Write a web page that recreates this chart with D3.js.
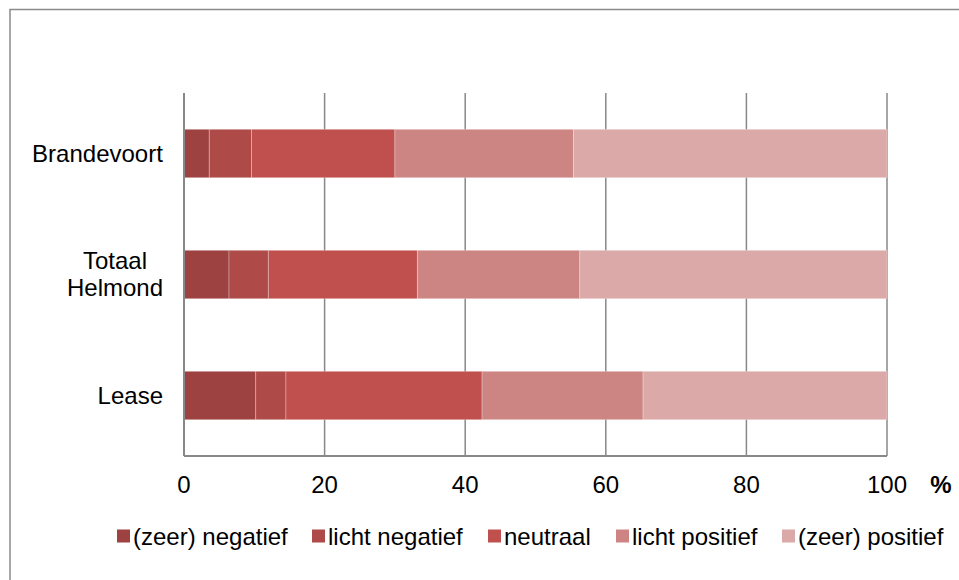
<!DOCTYPE html>
<html>
<head>
<meta charset="utf-8">
<script src="https://cdn.jsdelivr.net/npm/d3@7"></script>
<style>
  html, body { margin: 0; padding: 0; background: #fff; }
  svg { display: block; font-family: "Liberation Sans", Arial, sans-serif; }
</style>
</head>
<body>
<svg id="chart" width="959" height="580"></svg>
<script>
// Categories (top to bottom) and label lines
const categories = ["Brandevoort", "Totaal Helmond", "Lease"];
const categoryLines = [["Brandevoort"], ["Totaal", "Helmond"], ["Lease"]];

// Answer classes, in stacking order
const seriesNames = ["(zeer) negatief", "licht negatief", "neutraal", "licht positief", "(zeer) positief"];
const seriesColors = ["#9d4240", "#ae4a47", "#c0504d", "#cd8583", "#dba9a8"];

// Percentages per category, one array per answer class
const zeerNegatief  = [3.6, 6.4, 10.2];
const lichtNegatief = [6.0, 5.6, 4.3];
const neutraal      = [20.4, 21.2, 27.9];
const lichtPositief = [25.4, 23.1, 22.9];
const zeerPositief  = [44.6, 43.7, 34.7];

const xTicks = [0, 20, 40, 60, 80, 100];

const seriesValues = [zeerNegatief, lichtNegatief, neutraal, lichtPositief, zeerPositief];
const rows = categories.map((c, i) => {
  const r = { category: c };
  seriesNames.forEach((s, j) => { r[s] = seriesValues[j][i]; });
  return r;
});

const svg = d3.select("#chart");
const fontSize = 24;

// outer chart frame
svg.append("rect")
  .attr("x", 10).attr("y", 9.5)
  .attr("width", 1000).attr("height", 1000)
  .attr("fill", "none").attr("stroke", "#8a8a8a").attr("stroke-width", 1.5);

const plot = { left: 184, right: 887, top: 93, bottom: 456 };

const x = d3.scaleLinear().domain([0, 100]).range([plot.left, plot.right]);
const y = d3.scaleBand().domain(categories).range([plot.top, plot.bottom])
  .paddingInner(0.6).paddingOuter(0.3);

// vertical gridlines
svg.append("g")
  .selectAll("line")
  .data(xTicks)
  .join("line")
  .attr("x1", d => x(d)).attr("x2", d => x(d))
  .attr("y1", plot.top).attr("y2", plot.bottom)
  .attr("stroke", "#888").attr("stroke-width", 1.5);

// stacked bars
const stack = d3.stack().keys(seriesNames)(rows);
svg.append("g")
  .selectAll("g")
  .data(stack)
  .join("g")
  .attr("fill", (d, i) => seriesColors[i])
  .selectAll("rect")
  .data(d => d)
  .join("rect")
  .attr("x", d => x(d[0]))
  .attr("y", d => y(d.data.category))
  .attr("width", d => x(d[1]) - x(d[0]))
  .attr("height", y.bandwidth())
  .attr("stroke", "rgba(255,255,255,0.28)")
  .attr("stroke-width", 1);

// axis lines
svg.append("line")
  .attr("x1", plot.left).attr("x2", plot.left)
  .attr("y1", plot.top).attr("y2", plot.bottom)
  .attr("stroke", "#888").attr("stroke-width", 2);
svg.append("line")
  .attr("x1", plot.left).attr("x2", plot.right)
  .attr("y1", plot.bottom).attr("y2", plot.bottom)
  .attr("stroke", "#888").attr("stroke-width", 2);

// x tick labels
svg.append("g")
  .selectAll("text")
  .data(xTicks)
  .join("text")
  .attr("x", d => x(d))
  .attr("y", 493)
  .attr("text-anchor", "middle")
  .attr("font-size", fontSize)
  .attr("fill", "#000")
  .text(d => d);

svg.append("text")
  .attr("x", 941).attr("y", 493)
  .attr("text-anchor", "middle")
  .attr("font-size", fontSize)
  .attr("font-weight", "bold")
  .text("%");

// category labels
const catG = svg.append("g");
categories.forEach((c, i) => {
  const lines = categoryLines[i];
  const cy = y(c) + y.bandwidth() / 2;
  const lh = 27;
  const t = catG.append("text")
    .attr("font-size", fontSize)
    .attr("fill", "#000");
  lines.forEach((ln, k) => {
    t.append("tspan")
      .attr("x", 0)
      .attr("y", cy + 8 + (k - (lines.length - 1) / 2) * lh)
      .attr("text-anchor", "middle")
      .text(ln);
  });
  // right-align the block 21px left of the axis
  const bb = t.node().getBBox();
  t.attr("transform", `translate(${plot.left - 21 - bb.width / 2},0)`);
});

// legend
const legendX = [117, 312, 488, 616, 782];
const leg = svg.append("g");
seriesNames.forEach((s, i) => {
  leg.append("rect")
    .attr("x", legendX[i]).attr("y", 529.5)
    .attr("width", 13).attr("height", 13)
    .attr("fill", seriesColors[i]);
  leg.append("text")
    .attr("x", legendX[i] + 16).attr("y", 544.5)
    .attr("font-size", fontSize)
    .attr("fill", "#000")
    .text(s);
});
</script>
</body>
</html>
